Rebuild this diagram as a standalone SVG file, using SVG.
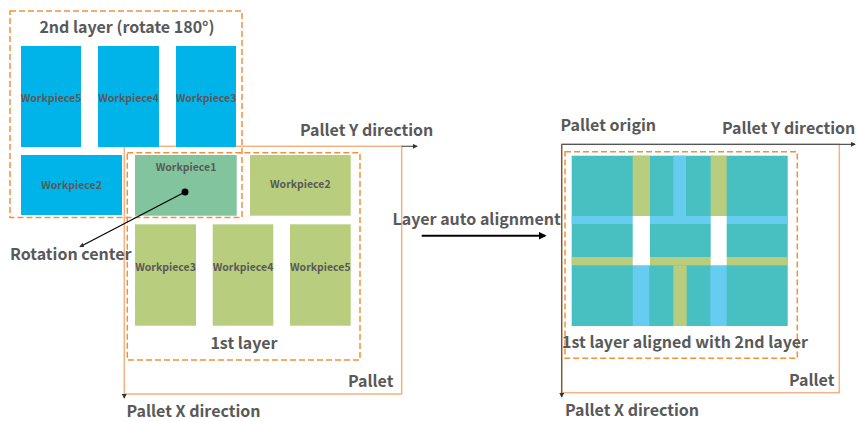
<svg xmlns="http://www.w3.org/2000/svg" width="858" height="421" viewBox="0 0 858 421">
<defs>
<style>
.t{font-family:"Noto Sans CJK SC","Noto Sans",sans-serif;font-weight:bold;fill:#595959;font-size:16px}
.w{font-family:"Noto Sans CJK SC","Noto Sans",sans-serif;font-weight:bold;fill:#595959;font-size:10.5px;text-anchor:middle}
.blue{fill:#00B4EA}
.g1{fill:#82C49E}
.g2{fill:#B8CD7D}
.pal{fill:none;stroke:#F4B183;stroke-width:1.5}
.dash{fill:none;stroke:#F0923A;stroke-width:1.5;stroke-dasharray:6 3}
.ax{stroke:#555;stroke-width:1.2;fill:none}
</style>
<marker id="sa" viewBox="0 0 6 6" refX="5" refY="3" markerWidth="4" markerHeight="4" orient="auto"><path d="M0,0 L6,3 L0,6 z" fill="#333"/></marker>
<marker id="ba" viewBox="0 0 10 10" refX="8" refY="5" markerWidth="4" markerHeight="4" orient="auto"><path d="M0,0 L10,5 L0,10 z" fill="#000"/></marker>
</defs>

<g id="left-pallet">
<rect class="pal" x="124.3" y="146.3" width="277.4" height="247.7"/>
<line class="ax" x1="401.7" y1="146.3" x2="417" y2="146.3" marker-end="url(#sa)"/>
<line class="ax" x1="124.3" y1="394" x2="124.3" y2="398" marker-end="url(#sa)"/>
<text class="t" x="300" y="136">Pallet Y direction</text>
<text class="t" x="126.5" y="417">Pallet X direction</text>
<text class="t" x="348" y="387">Pallet</text>
</g>

<g id="second-layer">
<rect class="blue" x="21" y="46" width="60" height="101"/>
<rect class="blue" x="98" y="46" width="61" height="101"/>
<rect class="blue" x="176" y="46" width="60" height="101"/>
<rect class="blue" x="21" y="155" width="101" height="60"/>
<text class="w" x="51" y="102">Workpiece5</text>
<text class="w" x="128.5" y="102">Workpiece4</text>
<text class="w" x="206" y="102">Workpiece3</text>
<text class="w" x="71.5" y="189">Workpiece2</text>
<rect class="dash" x="10" y="11" width="232" height="206.5"/>
<text class="t" x="127" y="33" text-anchor="middle">2nd layer (rotate 180°)</text>
</g>

<g id="first-layer">
<rect class="g1" x="135" y="155" width="101.7" height="60.7"/>
<rect class="g2" x="250" y="155" width="100.7" height="60.7"/>
<rect class="g2" x="135" y="224.3" width="61" height="101.4"/>
<rect class="g2" x="212.7" y="224.3" width="60.6" height="101.4"/>
<rect class="g2" x="290" y="224.3" width="60.7" height="101.4"/>
<text class="w" x="186" y="170.5">Workpiece1</text>
<text class="w" x="300.3" y="188">Workpiece2</text>
<text class="w" x="165.5" y="270.5">Workpiece3</text>
<text class="w" x="243" y="270.5">Workpiece4</text>
<text class="w" x="320.3" y="270.5">Workpiece5</text>
<rect class="dash" x="127.3" y="152.7" width="232.7" height="207.3"/>
<text class="t" x="244" y="349" text-anchor="middle">1st layer</text>
</g>

<g id="rotation-center">
<circle cx="185" cy="192" r="3.5" fill="#000"/>
<text class="t" x="10" y="260">Rotation center</text>
</g>

<g id="alignment">
<text class="t" x="392.5" y="225">Layer auto alignment</text>
</g>

<g id="right-pallet">
<rect class="pal" x="561.7" y="144.3" width="277.6" height="248.4"/>
<line class="ax" x1="561.7" y1="144.3" x2="855" y2="144.3" marker-end="url(#sa)"/>
<line class="ax" x1="561.7" y1="144.3" x2="561.7" y2="397" marker-end="url(#sa)"/>
<text class="t" x="560.5" y="131">Pallet origin</text>
<text class="t" x="722" y="134">Pallet Y direction</text>
<text class="t" x="789" y="386">Pallet</text>
<text class="t" x="565" y="416">Pallet X direction</text>
</g>

<g id="aligned-layers">
<rect x="571.7" y="155.7" width="216" height="170.3" fill="#48BFC0"/>
<rect x="632.7" y="155.7" width="17.3" height="60.3" class="g2"/>
<rect x="673.3" y="155.7" width="12.7" height="60.3" fill="#66CCF0"/>
<rect x="710.7" y="155.7" width="16" height="60.3" class="g2"/>
<rect x="571.7" y="216" width="216" height="8" fill="#66CCF0"/>
<rect x="571.7" y="257" width="216" height="8.3" class="g2"/>
<rect x="632.7" y="265.3" width="16.6" height="60.7" fill="#66CCF0"/>
<rect x="673.3" y="265.3" width="13.4" height="60.7" class="g2"/>
<rect x="710.3" y="265.3" width="16.4" height="60.7" fill="#66CCF0"/>
<rect x="632.7" y="216" width="17.3" height="49.3" fill="#fff"/>
<rect x="710.7" y="216" width="16" height="49.3" fill="#fff"/>
<rect class="dash" x="565" y="151.7" width="232.3" height="206.6"/>
<text class="t" x="685" y="348" text-anchor="middle">1st layer aligned with 2nd layer</text>
</g>

<g id="connectors">
<line x1="185" y1="192" x2="80" y2="246.7" stroke="#000" stroke-width="1.2" marker-end="url(#sa)"/>
<line x1="421.7" y1="235.7" x2="545" y2="235.7" stroke="#000" stroke-width="2" marker-end="url(#ba)"/>
</g>
</svg>
